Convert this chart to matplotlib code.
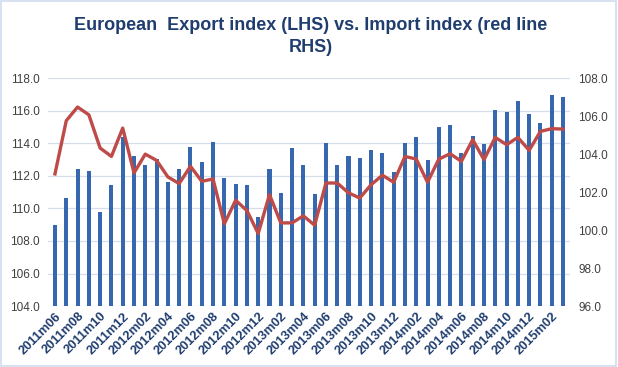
import matplotlib
matplotlib.use('Agg')
import matplotlib.pyplot as plt
from matplotlib.patches import Rectangle
import numpy as np

plt.rcParams['font.family'] = ['Liberation Sans', 'DejaVu Sans']

# monthly categories 2011m06 .. 2015m03
months = []
for y in range(2011, 2016):
    for m in range(1, 13):
        if (y == 2011 and m < 6) or (y == 2015 and m > 3):
            continue
        months.append(f"{y}m{m:02d}")

# export index (left axis, bars)
export_idx = [109.0, 110.66, 112.44, 112.32, 109.8, 111.46, 114.36, 113.24, 112.69, 113.05,
              111.64, 112.44, 113.79, 112.87, 114.1, 111.85, 111.52, 111.46, 109.46, 112.44,
              110.97, 113.69, 112.69, 110.91, 114.03, 112.69, 113.24, 113.11, 113.6, 113.42,
              112.26, 114.03, 114.4, 112.99, 115.02, 115.14, 113.42, 114.46, 113.97, 116.06,
              115.94, 116.61, 115.81, 115.26, 116.98, 116.86]

# import index (right axis, red line)
import_idx = [102.96, 105.76, 106.48, 106.07, 104.32, 103.88, 105.37, 103.01, 104.0, 103.67,
              102.8, 102.45, 103.36, 102.57, 102.69, 100.33, 101.57, 101.03, 99.82, 101.87,
              100.38, 100.38, 100.75, 100.26, 102.48, 102.48, 101.96, 101.69, 102.39, 102.89,
              102.52, 103.88, 103.74, 102.52, 103.74, 104.02, 103.62, 104.76, 103.71, 104.88,
              104.5, 104.88, 104.2, 105.2, 105.34, 105.32]

x = np.arange(len(months))

fig = plt.figure(figsize=(6.18, 3.67), dpi=100)
ax = fig.add_axes([0.078, 0.166, 0.844, 0.621])

ax.bar(x, export_idx, width=0.36, color='#3767AE', zorder=2)
ax.set_ylim(104, 118)
ax.set_yticks(np.arange(104, 118.1, 2))
ax.set_yticklabels([f"{v:.1f}" for v in np.arange(104, 118.1, 2)])
ax.set_xlim(-0.6, len(months) - 0.4)
ax.grid(axis='y', color='#D5DEEA', linewidth=0.9, zorder=0)
ax.set_axisbelow(True)

ax2 = ax.twinx()
ax2.plot(x, import_idx, color='#BE4B48', linewidth=2.4, zorder=3)
ax2.set_ylim(96, 108)
ax2.set_yticks(np.arange(96, 108.1, 2))
ax2.set_yticklabels([f"{v:.1f}" for v in np.arange(96, 108.1, 2)])

for a in (ax, ax2):
    for s in a.spines.values():
        s.set_visible(False)
    a.tick_params(axis='y', length=0, labelsize=8.5, labelcolor='#404040', pad=6)

ax.set_xticks(x[::2])
ax.set_xticklabels(months[::2], rotation=45, ha='right', rotation_mode='anchor',
                   fontsize=9.3, fontweight='bold', color='#1F3D6E')
ax.tick_params(axis='x', length=0, pad=3)

fig.text(0.503, 0.9, "European  Export index (LHS) vs. Import index (red line\nRHS)",
         ha='center', va='center', fontsize=13, fontweight='bold', color='#1F3D6E',
         linespacing=1.4)

fig.patches.append(Rectangle((0.002, 0.003), 0.994, 0.994, transform=fig.transFigure,
                             fill=False, edgecolor='#D0DCEC', linewidth=1.2))

fig.savefig('out.png', dpi=100)
